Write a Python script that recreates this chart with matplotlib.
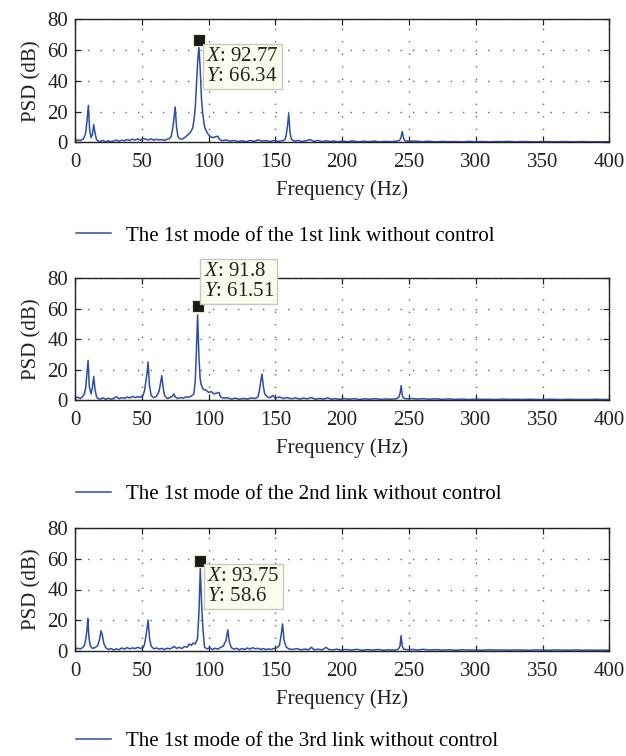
"""PSD spectra of the 1st mode of three links without control."""

import numpy as np
from matplotlib import pyplot as plt

plt.rcParams['font.family'] = ['Liberation Serif', 'DejaVu Serif']
plt.rcParams['mathtext.fontset'] = 'custom'
plt.rcParams['mathtext.rm'] = 'Liberation Serif'
plt.rcParams['mathtext.it'] = 'Liberation Serif:italic'

# (frequency Hz, PSD dB)
spectrum_1 = [
    (0, 1.0), (2, 1.5), (4, 1.2), (6, 2.0), (7, 3.5), (8, 6), (9, 14), (10, 24), (11, 8),
    (12, 3), (13, 5), (14, 11.5), (15, 6), (16, 2), (17, 1.0), (19, 0.5), (21, 1.2),
    (23, 0.3), (25, 1.0), (27, 0.4), (29, 0.8), (31, 1.5), (33, 0.6), (35, 1.4), (37, 1.0),
    (39, 1.8), (41, 1.2), (43, 2.0), (45, 1.5), (47, 2.2), (49, 1.3), (51, 2.5), (53, 2.0),
    (55, 1.6), (57, 2.2), (59, 1.4), (61, 2.0), (63, 1.5), (65, 1.8), (67, 1.2), (69, 2.0),
    (71, 2.5), (72, 4), (73, 8), (74, 15), (75, 23), (76, 10), (77, 4), (78, 2.5), (80, 2.0),
    (82, 3), (84, 4.5), (86, 6), (88, 9), (89, 14), (90, 22), (91, 38), (92, 55), (92.8, 62),
    (93.7, 48), (94.7, 28), (95.7, 18), (97, 10), (99, 6), (101, 4), (103, 3), (105, 3.5),
    (107, 4), (108, 2), (110, 1), (113, 1.5), (116, 0.8), (119, 1.2), (122, 0.5), (125, 1.0),
    (128, 0.3), (131, 1.2), (134, 0.6), (137, 1.5), (140, 0.8), (143, 1.0), (146, 0.5),
    (149, 1.2), (152, 0.6), (155, 1.0), (157, 1.5), (158, 4), (159, 10), (160, 18.5),
    (161, 6), (162, 2), (164, 0.8), (167, 1.2), (170, 0.5), (173, 1.0), (176, 1.8), (179, 0.6),
    (182, 1.2), (185, 0.4), (188, 1.0), (191, 0.5), (194, 0.8), (197, 0.3), (200, 0.8),
    (204, 0.4), (208, 0.9), (212, 0.3), (216, 0.7), (220, 0.4), (224, 0.8), (228, 0.3),
    (232, 0.6), (236, 0.4), (240, 0.7), (243, 1.2), (244, 3), (245, 7), (246, 2.5), (247, 1.0),
    (250, 0.6), (255, 0.8), (260, 0.4), (265, 0.7), (270, 0.3), (275, 0.6), (280, 0.4),
    (285, 0.5), (290, 0.3), (295, 0.6), (300, 0.4), (305, 0.5), (310, 0.3), (315, 0.5),
    (320, 0.4), (325, 0.6), (330, 0.3), (335, 0.5), (340, 0.4), (345, 0.3), (350, 0.5),
    (355, 0.4), (360, 0.3), (365, 0.5), (370, 0.4), (375, 0.3), (380, 0.5), (385, 0.3),
    (390, 0.4), (395, 0.3), (400, 0.4),
]

spectrum_2 = [
    (0, 1.2), (2, 1.8), (4, 1.0), (6, 2.5), (7, 4), (8, 8), (9, 18), (9.8, 26), (10.7, 9),
    (12, 4), (13, 8), (14, 15.5), (15, 7), (16, 2.5), (17, 1.0), (19, 0.6), (21, 1.4),
    (23, 0.4), (25, 1.2), (27, 0.5), (29, 1.0), (31, 2.2), (33, 0.8), (35, 1.6), (37, 1.0),
    (39, 2.0), (41, 1.4), (43, 2.4), (45, 1.6), (47, 2.2), (49, 1.8), (51, 3.2), (52, 6),
    (53, 12), (54, 18), (54.7, 25), (55.7, 10), (57, 3), (59, 1.5), (61, 2.5), (63, 6),
    (64, 11), (65, 16), (66, 8), (67, 3), (69, 1.0), (71, 1.5), (73, 2.5), (74, 4), (75, 2.0),
    (77, 1.0), (79, 1.6), (81, 1.2), (83, 2.0), (85, 1.8), (87, 2.5), (89, 4), (90, 12),
    (90.8, 30), (91.8, 56), (92.8, 28), (93.7, 14), (94.5, 10), (96, 7), (98, 6.5), (100, 5),
    (102, 5.5), (104, 4), (106, 4.5), (107.8, 5), (109, 2), (111, 1.2), (114, 1.5),
    (117, 0.6), (120, 1.2), (123, 0.5), (126, 1.0), (129, 0.6), (132, 1.4), (135, 1.0),
    (137, 2.0), (138, 6), (139, 12), (140, 17), (141, 9), (142, 4), (144, 2.0), (146, 1.5),
    (148, 3), (150, 1.2), (153, 2.0), (156, 1.0), (159, 1.6), (162, 0.8), (165, 1.4),
    (168, 0.6), (171, 1.2), (174, 0.8), (177, 1.6), (180, 0.5), (183, 1.0), (186, 0.6),
    (189, 1.4), (192, 0.5), (195, 0.9), (198, 0.4), (201, 1.0), (205, 0.5), (209, 0.9),
    (213, 0.3), (217, 0.8), (221, 0.5), (225, 0.9), (229, 0.4), (233, 0.7), (237, 0.5),
    (241, 0.9), (242.5, 2), (243.5, 5), (244.2, 9.5), (245, 3), (246, 1.2), (248, 0.8),
    (252, 1.0), (256, 0.6), (260, 0.9), (265, 0.5), (270, 0.8), (275, 0.4), (280, 0.7),
    (285, 0.4), (290, 0.6), (295, 0.3), (300, 0.6), (305, 0.4), (310, 0.5), (315, 0.3),
    (320, 0.6), (325, 0.4), (330, 0.5), (335, 0.3), (340, 0.5), (345, 0.4), (350, 0.3),
    (355, 0.5), (360, 0.4), (365, 0.3), (370, 0.5), (375, 0.3), (380, 0.4), (385, 0.3),
    (390, 0.5), (395, 0.3), (400, 0.4),
]

spectrum_3 = [
    (0, 1.0), (2, 1.6), (4, 1.2), (6, 2.2), (7, 3.5), (8, 7), (9, 14), (9.6, 21), (10.5, 8),
    (11.5, 3), (13, 1.5), (15, 2.0), (17, 3.3), (18.5, 8), (19.5, 13), (20.5, 10), (21.5, 5),
    (23, 2.0), (25, 0.8), (27, 1.4), (29, 0.5), (31, 1.2), (33, 0.6), (35, 1.8), (37, 1.0),
    (39, 2.0), (41, 1.2), (43, 1.8), (45, 1.4), (47, 2.2), (49, 1.5), (51, 2.0), (52, 4),
    (53, 9), (54, 15), (54.8, 20), (55.8, 8), (57, 3), (59, 1.2), (61, 1.8), (63, 1.0),
    (65, 1.5), (67, 0.8), (69, 1.6), (71, 1.2), (73, 2.0), (74.3, 2.8), (76, 1.5), (78, 2.2),
    (80, 1.4), (82, 2.8), (84, 2.2), (85.5, 4.4), (87, 3.5), (88.5, 5), (90, 4.4),
    (91.7, 7.7), (92.8, 25), (93.8, 54), (94.8, 30), (95.7, 15), (97, 2.2), (99, 1.2),
    (101, 2.0), (103, 0.8), (105, 1.6), (107, 1.0), (109, 2.2), (111, 3), (113, 6.6),
    (114.4, 13.6), (115.5, 6), (117, 2.0), (119, 1.0), (121, 1.6), (123, 0.6), (125, 1.4),
    (127, 0.8), (129, 1.8), (131, 1.0), (133, 2.0), (135, 1.2), (137, 1.6), (139, 0.8),
    (141, 1.4), (143, 0.7), (145, 1.2), (147, 0.8), (149, 1.5), (151, 1.8), (153, 3.3),
    (154.3, 10), (155.4, 17.5), (156.5, 7), (158, 2.5), (160, 1.2), (163, 0.8), (166, 1.4),
    (169, 0.6), (172, 1.0), (175, 0.7), (177, 2.2), (179, 0.6), (182, 1.0), (185, 0.5),
    (188, 2.2), (190, 0.8), (193, 0.5), (196, 1.0), (199, 0.4), (203, 0.8), (207, 0.4),
    (211, 0.9), (215, 0.3), (219, 0.7), (223, 0.4), (227, 0.8), (231, 0.3), (235, 0.6),
    (239, 0.4), (242, 0.9), (243.3, 3), (244.1, 9.9), (245, 3), (246, 1.0), (249, 0.6),
    (253, 0.8), (257, 0.5), (261, 0.9), (265, 0.4), (270, 0.7), (275, 0.4), (280, 0.6),
    (285, 0.3), (290, 0.6), (295, 0.4), (300, 0.5), (305, 0.3), (310, 0.6), (315, 0.4),
    (320, 0.5), (325, 0.3), (330, 0.5), (335, 0.4), (340, 0.3), (345, 0.5), (350, 0.4),
    (355, 0.3), (360, 0.5), (365, 0.4), (370, 0.3), (375, 0.5), (380, 0.3), (385, 0.4),
    (390, 0.3), (395, 0.4), (400, 0.3),
]

spectra = [spectrum_1, spectrum_2, spectrum_3]
tip_x = [92.77, 91.8, 93.75]
tip_y = [66.34, 61.51, 58.6]
# top-left corner of each data tip box (data coords)
tip_box = [(98.0, 62.0), (96.4, 90.5), (99.0, 54.8)]
labels = [
    'The 1st mode of the 1st link without control',
    'The 1st mode of the 2nd link without control',
    'The 1st mode of the 3rd link without control',
]

x_ticks = np.arange(0, 401, 50)
y_ticks = np.arange(0, 81, 20)

W, H = 626, 756
LINE_COLOR = '#2d4ea6'
FS = 15

fig = plt.figure(figsize=(W / 100, H / 100), dpi=100)

# axes boxes in pixels: (left, top, right, bottom)
ax_px = [(75, 19.3, 609.3, 142.3), (75, 278.3, 609.3, 400), (75, 528.3, 609.3, 650.7)]
legend_y = [236, 494, 741.5]

for i, spec in enumerate(spectra):
    l, t, r, b = ax_px[i]
    ax = fig.add_axes([l / W, 1 - b / H, (r - l) / W, (b - t) / H])
    f, p = np.array(spec).T
    line, = ax.plot(f, p, color=LINE_COLOR, lw=1.1, label=labels[i])

    ax.set_xlim(0, 400)
    ax.set_ylim(0, 80)
    ax.set_xticks(x_ticks)
    ax.set_yticks(y_ticks)
    ax.tick_params(direction='in', top=True, right=True, length=4, width=0.9,
                   labelsize=FS, pad=5, colors='#222222')
    ax.tick_params(axis='x', pad=8)
    ax.grid(True, color='#666666', linestyle=(0, (1, 8)), linewidth=1.0)
    for s in ax.spines.values():
        s.set_linewidth(1.0)
        s.set_color('#222222')
    ax.set_xlabel('Frequency (Hz)', fontsize=FS, labelpad=6, color='#222222')
    ax.set_ylabel('PSD (dB)', fontsize=FS, labelpad=4, color='#222222')

    # data tip
    ax.plot([tip_x[i]], [tip_y[i]], marker='s', markersize=9, color='#1a1a1a',
            markeredgecolor='#e8e4c0', markeredgewidth=0.8, clip_on=False, zorder=5)
    bx, by = tip_box[i]
    ax.text(bx, by, '$\\mathit{X}$: %g\n$\\mathit{Y}$: %g' % (tip_x[i], tip_y[i]),
            ha='left', va='top', fontsize=FS, color='#222222', linespacing=1.05,
            clip_on=False, zorder=6,
            bbox=dict(boxstyle='square,pad=0.16', facecolor='#fbfbee',
                      edgecolor='#c8c8c0', linewidth=1.0))

    fig.legend(handles=[line], loc='center left',
               bbox_to_anchor=(76 / W, 1 - legend_y[i] / H),
               frameon=False, fontsize=FS, handlelength=1.7, handletextpad=0.7,
               borderpad=0, borderaxespad=0)

fig.savefig('out.png', dpi=100)
